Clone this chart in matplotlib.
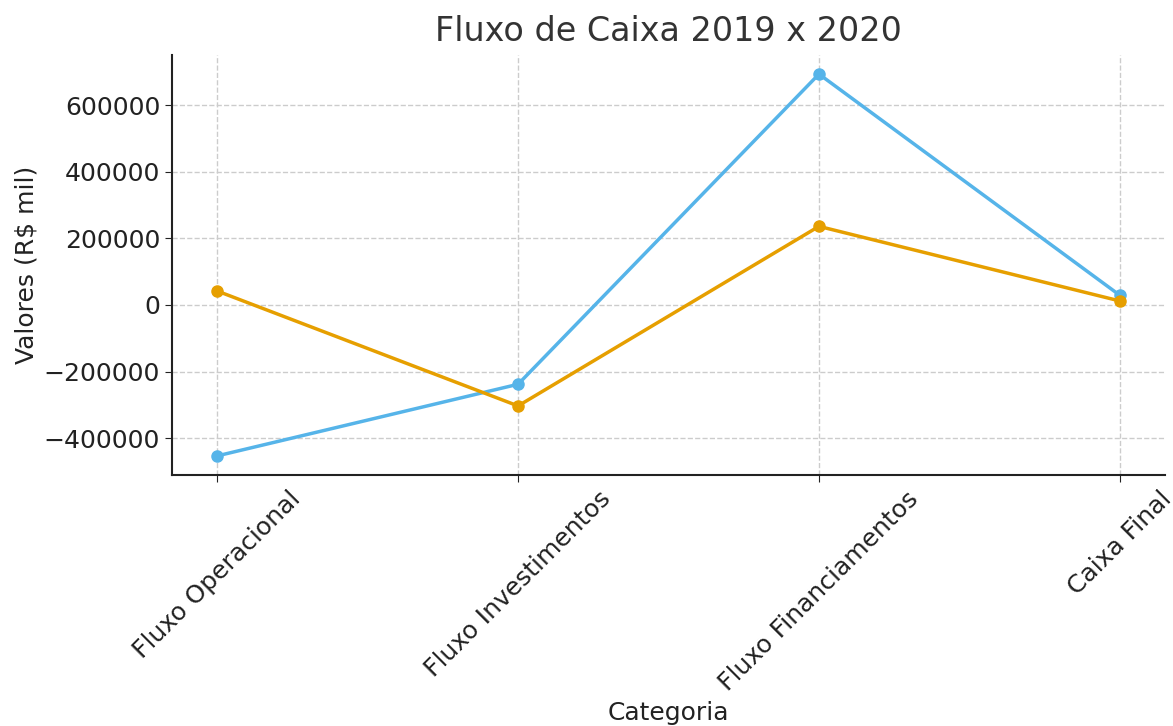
import matplotlib
matplotlib.use("Agg")
import matplotlib.pyplot as plt

categorias = ["Fluxo Operacional", "Fluxo Investimentos", "Fluxo Financiamentos", "Caixa Final"]
valores_2019 = [-453000, -238000, 693000, 29000]
valores_2020 = [42000, -303000, 236000, 12000]

plt.rcParams['font.family'] = ['DejaVu Sans']
fig = plt.figure(figsize=(11.73, 7.26), dpi=100)
ax = fig.add_axes([172/1173, 1 - 475/726, (1165-172)/1173, (475-55)/726])

ax.plot(categorias, valores_2019, marker='o', color='#56B4E9', linewidth=2.5, markersize=8, label='2019')
ax.plot(categorias, valores_2020, marker='o', color='#E69F00', linewidth=2.5, markersize=8, label='2020')

ax.set_title("Fluxo de Caixa 2019 x 2020", fontsize=24, color='#333333', pad=10)
ax.set_xlabel("Categoria", fontsize=18, color='#222222')
ax.set_ylabel("Valores (R$ mil)", fontsize=18, color='#222222')
ax.tick_params(axis='both', labelsize=18, colors='#222222', length=5)
plt.setp(ax.get_xticklabels(), rotation=45, ha='center')
ax.grid(True, linestyle='--', color='#cccccc', linewidth=1)
ax.set_axisbelow(True)
for s in ['top', 'right']:
    ax.spines[s].set_visible(False)
for s in ['left', 'bottom']:
    ax.spines[s].set_color('#222222')
    ax.spines[s].set_linewidth(1.5)

fig.savefig("out.png", dpi=100)
